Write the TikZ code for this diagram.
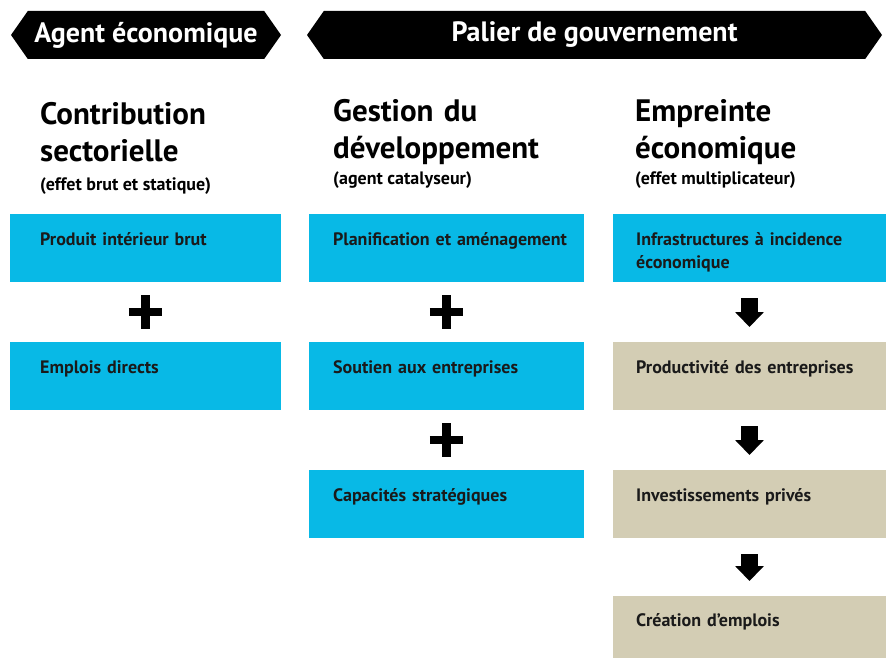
\documentclass[tikz,border=0pt]{standalone}
\usepackage{fontspec}
\setmainfont{PT Sans}
\usetikzlibrary{positioning,calc,shapes.symbols,shapes.misc,arrows.meta}
\definecolor{bleu}{RGB}{8,185,230}
\definecolor{beige}{RGB}{211,205,180}
\definecolor{encre}{RGB}{26,26,26}

\begin{document}
\begin{tikzpicture}[x=1pt,y=-1pt,
    banner/.style={signal,signal to=west and east,signal pointer angle=110,fill=black,text=white,
      minimum height=48pt,inner sep=0,outer sep=0,font=\bfseries\fontsize{28}{32}\selectfont},
    title/.style={anchor=base west,text width=270pt,align=left,inner sep=0,font=\bfseries\fontsize{31}{37}\selectfont},
    subtitle/.style={anchor=base west,inner sep=0,font=\bfseries\fontsize{18}{20}\selectfont},
    bluebox/.style={rectangle,fill=bleu,minimum height=68pt,inner sep=0,outer sep=0,anchor=north west},
    tanbox/.style={bluebox,fill=beige},
    boxtext/.style={anchor=base west,text width=255pt,align=left,inner sep=0,text=encre,
      font=\bfseries\fontsize{18}{23}\selectfont},
    plussign/.style={draw,cross out,rotate=45,minimum size=15pt,line width=8.5pt,inner sep=0},
    thenarrow/.style={line width=17pt,-{Triangle[width=28pt,length=15pt]},shorten <=16pt,shorten >=15pt}]
  \useasboundingbox (0,0) rectangle (887,658);
  % banners
  \node[banner,minimum width=270pt] (agent) at (146,35) {Agent économique};
  \node[banner,minimum width=575pt] (palier) at (594.5,35) {Palier de gouvernement};
  % titles
  \node[title] (contrib) at (40,125) {Contribution\\sectorielle};
  \node[subtitle] (contrib-s) at (40,190) {(effet brut et statique)};
  \node[title] (gestion) at (333,122) {Gestion du\\développement};
  \node[subtitle] (gestion-s) at (333,185) {(agent catalyseur)};
  \node[title] (empreinte) at (635,122) {Empreinte\\économique};
  \node[subtitle] (empreinte-s) at (635,185) {(effet multiplicateur)};
  % sectoral contribution
  \node[bluebox,minimum width=271pt] (pib) at (10,214) {};
  \node[bluebox,minimum width=271pt,below=60pt of pib] (emplois) {};
  \node[boxtext] (pib-t) at ([shift={(30,31)}]pib.north west) {Produit intérieur brut};
  \node[boxtext] (emplois-t) at ([shift={(30,31)}]emplois.north west) {Emplois directs};
  \node[plussign] (plus-a) at ($(pib.south)!0.5!(emplois.north)$) {};
  % development
  \node[bluebox,minimum width=275pt,right=28pt of pib] (plan) {};
  \node[bluebox,minimum width=275pt,below=60pt of plan] (soutien) {};
  \node[bluebox,minimum width=275pt,below=60pt of soutien] (capac) {};
  \node[boxtext] (plan-t) at ([shift={(24,31)}]plan.north west) {Planification et aménagement};
  \node[boxtext] (soutien-t) at ([shift={(24,31)}]soutien.north west) {Soutien aux entreprises};
  \node[boxtext] (capac-t) at ([shift={(24,31)}]capac.north west) {Capacités stratégiques};
  \node[plussign] (plus-b) at ($(plan.south)!0.5!(soutien.north)$) {};
  \node[plussign] (plus-c) at ($(soutien.south)!0.5!(capac.north)$) {};
  % economic footprint
  \node[bluebox,minimum width=273pt,right=29pt of plan] (infra) {};
  \node[tanbox,minimum width=273pt,below=60pt of infra] (produc) {};
  \node[tanbox,minimum width=273pt,below=60pt of produc] (invest) {};
  \node[tanbox,minimum width=273pt,minimum height=62pt,below=58pt of invest] (creation) {};
  \node[boxtext] (infra-t) at ([shift={(23,31)}]infra.north west) {Infrastructures à incidence\\économique};
  \node[boxtext] (produc-t) at ([shift={(23,31)}]produc.north west) {Productivité des entreprises};
  \node[boxtext] (invest-t) at ([shift={(23,31)}]invest.north west) {Investissements privés};
  \node[boxtext] (creation-t) at ([shift={(23,30)}]creation.north west) {Création d’emplois};
  % chain
  \draw[thenarrow] (infra) -- (produc);
  \draw[thenarrow] (produc) -- (invest);
  \draw[thenarrow] (invest) -- (creation);
\end{tikzpicture}
\end{document}
